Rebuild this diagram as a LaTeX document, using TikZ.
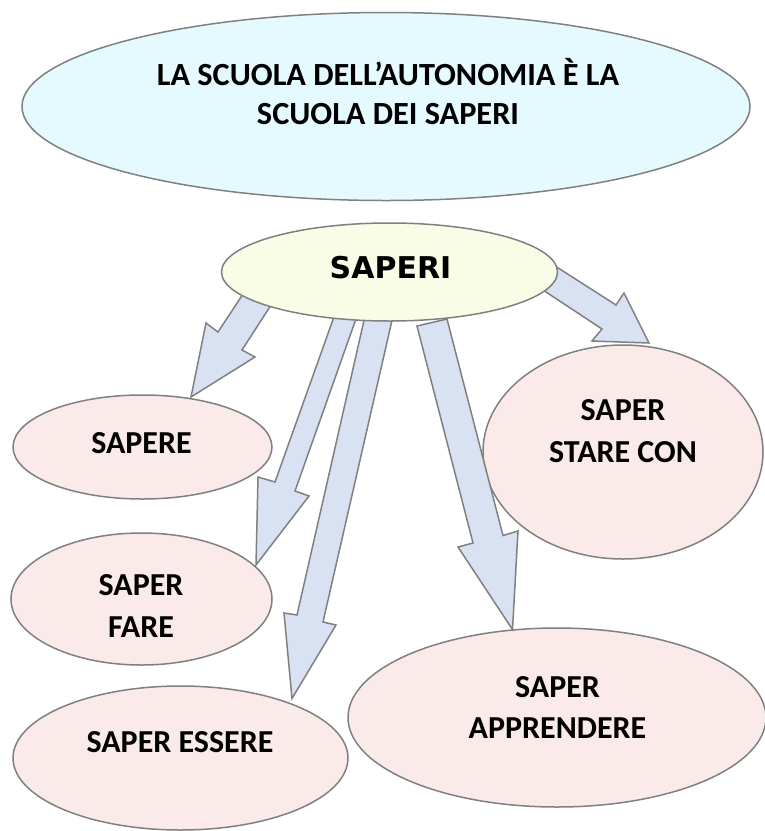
\documentclass[tikz,border=0pt]{standalone}
\usepackage{fontspec}
\usetikzlibrary{shapes.geometric}
\newfontfamily\calib{Carlito}
\newfontfamily\verd{DejaVu Sans}
\definecolor{edgegray}{RGB}{128,128,128}
\definecolor{topfill}{RGB}{229,250,255}
\definecolor{rootfill}{RGB}{250,253,230}
\definecolor{leaffill}{RGB}{251,234,234}
\definecolor{arrowfill}{RGB}{217,226,243}
\begin{document}
\begin{tikzpicture}[x=1pt,y=-1pt,
  oval/.style={ellipse,draw=edgegray,line width=1.5pt,inner sep=0pt},
  leaf/.style={oval,fill=leaffill},
  lbl/.style={inner sep=0pt,align=center,font=\calib\bfseries\fontsize{32}{41.8}\selectfont},
  blk/.style={draw=edgegray,fill=arrowfill,line width=1.5pt,line join=miter}]
\useasboundingbox (0,0) rectangle (764,831);
% title
\node[oval,fill=topfill,minimum width=728pt,minimum height=188pt] (title) at (386,106.5) {};
\node[lbl,font=\calib\bfseries\fontsize{32.3}{39.5}\selectfont] (titletxt) at (388,91.5) {LA SCUOLA DELL’AUTONOMIA È LA\\SCUOLA DEI SAPERI};
% leaves
\node[leaf,minimum width=259pt,minimum height=104pt] (sapere) at (142.5,447) {};
\node[leaf,minimum width=261pt,minimum height=132pt] (fare) at (141.5,599) {};
\node[leaf,minimum width=335pt,minimum height=144pt] (essere) at (180.5,758) {};
\node[leaf,minimum width=280pt,minimum height=214pt] (stare) at (623,452) {};
\node[leaf,minimum width=418pt,minimum height=179pt] (apprendere) at (557,717.5) {};
\node[lbl] (saperetxt) at (141.5,443.5) {SAPERE};
\node[lbl] (faretxt) at (141,606) {SAPER\\FARE};
\node[lbl] (esseretxt) at (180,742) {SAPER ESSERE};
\node[lbl] (staretxt) at (623,431) {SAPER\\STARE CON};
\node[lbl] (apprtxt) at (557.5,707.5) {SAPER\\APPRENDERE};
% block arrows
\draw[blk] (245,291) -- (218,332) -- (206,323) -- (191,397) -- (255,357) -- (242,350) -- (273,302) -- cycle;
\draw[blk] (335,314) -- (275,482) -- (258,477) -- (256,565) -- (309,496) -- (295,491) -- (357,316) -- cycle;
\draw[blk] (365,316) -- (297,615) -- (284,613) -- (292,698.5) -- (336,625) -- (323,622) -- (393,316) -- cycle;
\draw[blk] (417,326) -- (473,543) -- (458,547) -- (512.5,629.5) -- (518,531) -- (503,535.5) -- (447,319) -- cycle;
\draw[blk] (552,264) -- (616,305) -- (624,293) -- (649,343) -- (592,341) -- (602,329) -- (540,288) -- cycle;
% root
\node[oval,fill=rootfill,minimum width=336pt,minimum height=98pt] (saperi) at (389.5,272) {};
\node[inner sep=0pt,font=\verd\bfseries\fontsize{30}{36}\selectfont] (saperitxt) at (390.5,267.5) {SAPERI};
\end{tikzpicture}
\end{document}
